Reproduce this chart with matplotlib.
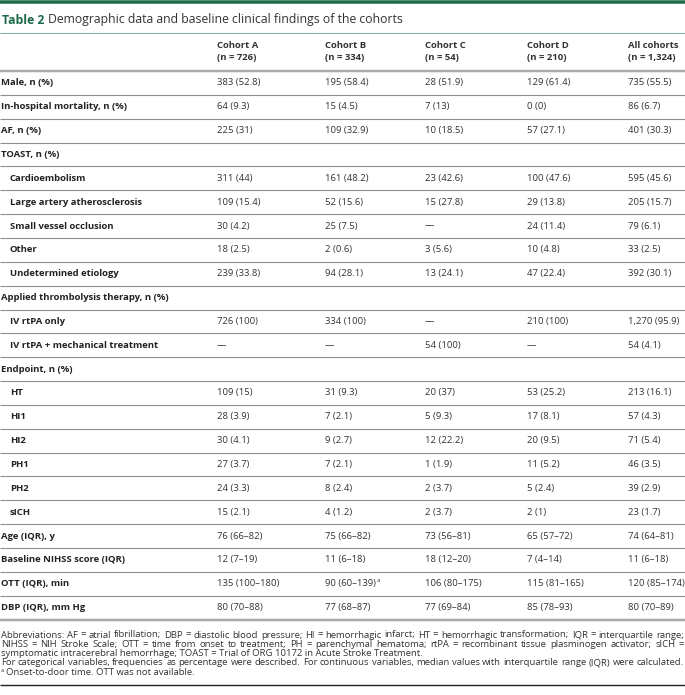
import matplotlib
matplotlib.use('Agg')
import matplotlib.pyplot as plt

plt.rcParams['font.family'] = ['Open Sans', 'DejaVu Sans']

title_num = 'Table 2'
title_text = 'Demographic data and baseline clinical findings of the cohorts'

col_names = ['Cohort A', 'Cohort B', 'Cohort C', 'Cohort D', 'All cohorts']
col_ns = ['(n = 726)', '(n = 334)', '(n = 54)', '(n = 210)', '(n = 1,324)']

row_labels = [
    'Male, n (%)', 'In-hospital mortality, n (%)', 'AF, n (%)', 'TOAST, n (%)',
    'Cardioembolism', 'Large artery atherosclerosis', 'Small vessel occlusion',
    'Other', 'Undetermined etiology', 'Applied thrombolysis therapy, n (%)',
    'IV rtPA only', 'IV rtPA + mechanical treatment', 'Endpoint, n (%)',
    'HT', 'HI1', 'HI2', 'PH1', 'PH2', 'sICH', 'Age (IQR), y',
    'Baseline NIHSS score (IQR)', 'OTT (IQR), min', 'DBP (IQR), mm Hg',
]
row_indent = [0, 0, 0, 0, 1, 1, 1, 1, 1, 0, 1, 1, 0, 1, 1, 1, 1, 1, 1, 0, 0, 0, 0]

cohort_a = ['383 (52.8)', '64 (9.3)', '225 (31)', '', '311 (44)', '109 (15.4)',
            '30 (4.2)', '18 (2.5)', '239 (33.8)', '', '726 (100)', '—', '',
            '109 (15)', '28 (3.9)', '30 (4.1)', '27 (3.7)', '24 (3.3)', '15 (2.1)',
            '76 (66–82)', '12 (7–19)', '135 (100–180)', '80 (70–88)']
cohort_b = ['195 (58.4)', '15 (4.5)', '109 (32.9)', '', '161 (48.2)', '52 (15.6)',
            '25 (7.5)', '2 (0.6)', '94 (28.1)', '', '334 (100)', '—', '',
            '31 (9.3)', '7 (2.1)', '9 (2.7)', '7 (2.1)', '8 (2.4)', '4 (1.2)',
            '75 (66–82)', '11 (6–18)', '90 (60–139)', '77 (68–87)']
cohort_c = ['28 (51.9)', '7 (13)', '10 (18.5)', '', '23 (42.6)', '15 (27.8)',
            '—', '3 (5.6)', '13 (24.1)', '', '—', '54 (100)', '',
            '20 (37)', '5 (9.3)', '12 (22.2)', '1 (1.9)', '2 (3.7)', '2 (3.7)',
            '73 (56–81)', '18 (12–20)', '106 (80–175)', '77 (69–84)']
cohort_d = ['129 (61.4)', '0 (0)', '57 (27.1)', '', '100 (47.6)', '29 (13.8)',
            '24 (11.4)', '10 (4.8)', '47 (22.4)', '', '210 (100)', '—', '',
            '53 (25.2)', '17 (8.1)', '20 (9.5)', '11 (5.2)', '5 (2.4)', '2 (1)',
            '65 (57–72)', '7 (4–14)', '115 (81–165)', '85 (78–93)']
all_cohorts = ['735 (55.5)', '86 (6.7)', '401 (30.3)', '', '595 (45.6)', '205 (15.7)',
               '79 (6.1)', '33 (2.5)', '392 (30.1)', '', '1,270 (95.9)', '54 (4.1)', '',
               '213 (16.1)', '57 (4.3)', '71 (5.4)', '46 (3.5)', '39 (2.9)', '23 (1.7)',
               '74 (64–81)', '11 (6–18)', '120 (85–174)', '80 (70–89)']
superscripts = {(1, 21): 'a'}

footnote_lines = [
    'Abbreviations: AF = atrial fibrillation; DBP = diastolic blood pressure; HI = hemorrhagic infarct; HT = hemorrhagic transformation; IQR = interquartile range;',
    'NIHSS = NIH Stroke Scale; OTT = time from onset to treatment; PH = parenchymal hematoma; rtPA = recombinant tissue plasminogen activator; sICH =',
    'symptomatic intracerebral hemorrhage; TOAST = Trial of ORG 10172 in Acute Stroke Treatment.',
    'For categorical variables, frequencies as percentage were described. For continuous variables, median values with interquartile range (IQR) were calculated.',
]
footnote_last = 'Onset-to-door time. OTT was not available.'
justify = [True, True, False, True]

W, H = 685, 695
fig = plt.figure(figsize=(W / 100, H / 100), dpi=100)
ax = fig.add_axes([0, 0, 1, 1])
ax.set_xlim(0, W)
ax.set_ylim(H, 0)
ax.axis('off')
renderer = fig.canvas.get_renderer()

green = '#1b6b4a'
txt = '#333333'
px = 0.72  # points per pixel
fsb = 6.8  # body font size

def hline(y, color, lw):
    ax.plot([0, W], [y, y], color=color, lw=lw * px, solid_capstyle='butt')

def text_width(s, **kw):
    t = ax.text(0, 0, s, **kw)
    bb = t.get_window_extent(renderer)
    t.remove()
    return bb.width

# top bar and title
hline(1.5, green, 3.5)
ax.text(2, 20, title_num, color=green, fontsize=8.8, fontweight='bold', va='center')
tw = text_width(title_num, fontsize=8.8, fontweight='bold')
ax.text(2 + tw + 4, 20, title_text, color=txt, fontsize=8.8, va='center')
hline(33, '#7fb59a', 1)

col_x = [217, 325, 425, 527, 628]
for x, name, n in zip(col_x, col_names, col_ns):
    ax.text(x, 46, name, color=txt, fontsize=fsb, fontweight='bold', va='center')
    ax.text(x, 57.5, n, color=txt, fontsize=fsb, fontweight='bold', va='center')

top = 71
pitch = 23.85
hline(top, '#aaaaaa', 2.5)
cols = [cohort_a, cohort_b, cohort_c, cohort_d, all_cohorts]
for i, label in enumerate(row_labels):
    yc = top + (i + 0.5) * pitch
    ax.text(1 + 9 * row_indent[i], yc, label, color='#222222', fontsize=fsb,
            fontweight='bold', va='center')
    for j, (x, vals) in enumerate(zip(col_x, cols)):
        ax.text(x, yc, vals[i], color=txt, fontsize=fsb, va='center')
        if (j, i) in superscripts:
            w = text_width(vals[i], fontsize=fsb)
            ax.text(x + w + 0.5, yc - 3, superscripts[(j, i)], color=txt,
                    fontsize=4.4, va='center')
    yb = top + (i + 1) * pitch
    if i < len(row_labels) - 1:
        hline(yb, '#8f8f8f', 1.1)
    else:
        hline(yb, '#aaaaaa', 2.5)

# footnotes (justified by spreading the extra room over the spaces)
fs = 6.8
fy0 = 635
fdy = 9.3
for k, line in enumerate(footnote_lines):
    y = fy0 + k * fdy
    if justify[k]:
        words = line.split(' ')
        full = text_width(line, fontsize=fs)
        extra = (W - 2 - full) / (len(words) - 1)
        for n, wd in enumerate(words):
            start = text_width(' '.join(words[:n + 1]), fontsize=fs) - text_width(wd, fontsize=fs)
            ax.text(1 + start + n * extra, y, wd, color=txt, fontsize=fs, va='center')
    else:
        ax.text(1, y, line, color=txt, fontsize=fs, va='center')
y = fy0 + 4 * fdy
ax.text(1, y - 2, 'a', color=txt, fontsize=4.2, va='center')
ax.text(6, y, footnote_last, color=txt, fontsize=fs, va='center')
hline(685, '#222222', 1.4)

fig.savefig('out.png', dpi=100)
